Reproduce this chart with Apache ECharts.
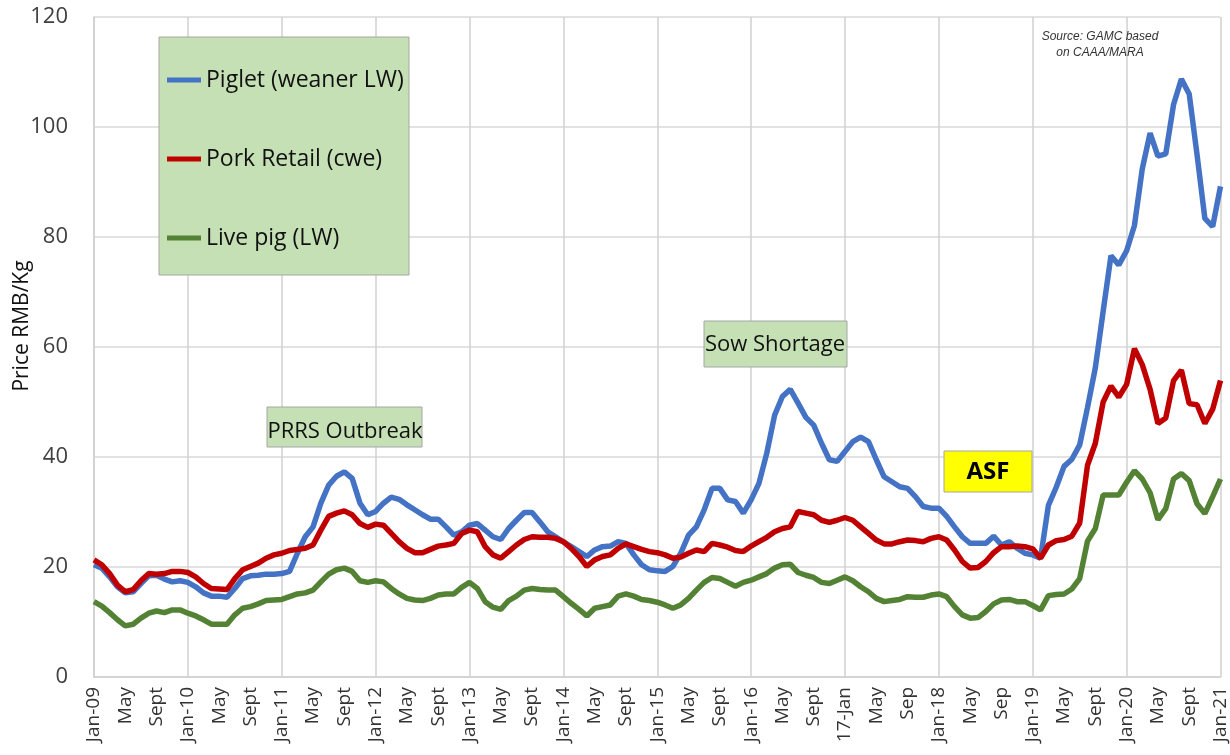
<!DOCTYPE html>
<html>
<head>
<meta charset="utf-8">
<script src="https://cdn.jsdelivr.net/npm/echarts@6/dist/echarts.min.js"></script>
<style>
  html, body { margin: 0; padding: 0; background: #ffffff; }
  #chart { width: 1230px; height: 755px; }
</style>
</head>
<body>
<div id="chart"></div>
<script>
// Tick labels, one every 4 months (Jan-09 .. Jan-21)
const tickLabels = ['Jan-09','May','Sept','Jan-10','May','Sept','Jan-11','May','Sept','Jan-12','May','Sept',
  'Jan-13','May','Sept','Jan-14','May','Sept','Jan-15','May','Sept','Jan-16','May','Sept',
  '17-Jan','May','Sep','Jan-18','May','Sep','Jan-19','May','Sept','Jan-20','May','Sept','Jan-21'];

// Monthly prices, RMB/kg, Jan-2009 .. Jan-2021
const piglet = [
  20.4, 19.8, 18.2, 16.4, 15.3, 15.5, 17.0, 18.4, 18.5, 17.8, 17.3, 17.5,
  17.2, 16.4, 15.3, 14.7, 14.7, 14.5, 16.1, 17.9, 18.4, 18.5, 18.7, 18.7,
  18.8, 19.2, 22.5, 25.5, 27.3, 31.6, 34.9, 36.5, 37.3, 36.1, 31.6, 29.5,
  30.1, 31.6, 32.7, 32.3, 31.3, 30.4, 29.5, 28.7, 28.7, 27.3, 25.8, 26.4,
  27.6, 27.9, 26.7, 25.5, 25.0, 27.0, 28.5, 29.9, 29.9, 28.2, 26.4, 25.5,
  24.6, 23.7, 22.8, 21.9, 23.1, 23.7, 23.8, 24.6, 24.3, 22.2, 20.4, 19.5,
  19.3, 19.2, 20.1, 22.5, 25.8, 27.3, 30.4, 34.3, 34.3, 32.2, 31.9, 29.8,
  32.2, 35.2, 40.7, 47.6, 51.0, 52.3, 49.8, 47.2, 45.8, 42.5, 39.5, 39.2,
  41.0, 42.8, 43.6, 42.8, 39.5, 36.4, 35.5, 34.6, 34.3, 32.8, 31.0, 30.7,
  30.7, 29.2, 27.3, 25.5, 24.3, 24.3, 24.3, 25.6, 24.0, 24.6, 23.4, 22.5,
  22.2, 21.6, 31.2, 34.5, 38.3, 39.6, 42.2, 49.0, 56.2, 66.5, 76.6, 74.9,
  77.5, 82.1, 92.4, 98.9, 94.7, 95.1, 104.1, 108.7, 106.0, 95.0, 83.4, 81.9,
  89.2
];
const porkRetail = [
  21.3, 20.4, 18.8, 16.7, 15.5, 15.9, 17.5, 18.8, 18.7, 18.8, 19.2, 19.2,
  19.0, 18.2, 17.0, 16.1, 16.0, 15.9, 17.9, 19.5, 20.1, 20.7, 21.6, 22.2,
  22.5, 23.0, 23.2, 23.4, 24.0, 26.7, 29.2, 29.8, 30.2, 29.5, 27.9, 27.2,
  27.8, 27.6, 26.1, 24.6, 23.4, 22.6, 22.6, 23.2, 23.8, 24.0, 24.3, 26.1,
  26.7, 26.4, 23.7, 22.2, 21.6, 22.8, 24.0, 25.0, 25.5, 25.4, 25.4, 25.2,
  24.6, 23.4, 21.9, 20.1, 21.3, 21.9, 22.2, 23.4, 24.2, 23.7, 23.2, 22.8,
  22.6, 22.2, 21.6, 21.8, 22.5, 23.1, 22.8, 24.3, 24.0, 23.6, 23.0, 22.8,
  23.8, 24.6, 25.4, 26.4, 27.0, 27.3, 30.1, 29.8, 29.5, 28.5, 28.1, 28.5,
  29.0, 28.5, 27.3, 26.1, 24.9, 24.2, 24.2, 24.6, 24.9, 24.8, 24.6, 25.2,
  25.5, 24.9, 23.1, 21.0, 19.8, 19.9, 21.0, 22.6, 23.7, 23.7, 23.8, 23.7,
  23.3, 21.6, 24.0, 24.8, 25.0, 25.6, 28.0, 38.5, 42.5, 50.0, 52.9, 50.9,
  53.2, 59.7, 56.8, 52.3, 46.1, 47.1, 53.9, 55.8, 49.7, 49.5, 46.1, 48.7,
  53.9
];
const livePig = [
  13.7, 12.9, 11.7, 10.4, 9.3, 9.6, 10.7, 11.6, 12.0, 11.7, 12.2, 12.2,
  11.6, 11.1, 10.4, 9.6, 9.6, 9.6, 11.3, 12.5, 12.8, 13.3, 13.9, 14.0,
  14.1, 14.6, 15.1, 15.3, 15.8, 17.3, 18.7, 19.5, 19.8, 19.2, 17.5, 17.2,
  17.5, 17.3, 16.1, 15.1, 14.3, 14.0, 13.9, 14.3, 14.9, 15.1, 15.1, 16.3,
  17.2, 16.1, 13.7, 12.7, 12.3, 13.9, 14.7, 15.8, 16.1, 15.9, 15.8, 15.8,
  14.6, 13.4, 12.3, 11.1, 12.5, 12.8, 13.1, 14.7, 15.1, 14.7, 14.1, 13.9,
  13.6, 13.1, 12.5, 13.1, 14.3, 15.8, 17.2, 18.1, 17.9, 17.2, 16.5, 17.2,
  17.6, 18.2, 18.8, 19.8, 20.4, 20.5, 19.0, 18.5, 18.1, 17.2, 17.0, 17.6,
  18.2, 17.5, 16.4, 15.5, 14.3, 13.7, 13.9, 14.1, 14.6, 14.5, 14.5, 14.9,
  15.1, 14.6, 12.8, 11.3, 10.7, 10.8, 11.9, 13.3, 14.0, 14.1, 13.7, 13.7,
  13.0, 12.2, 14.8, 15.0, 15.1, 16.0, 17.9, 24.7, 27.0, 33.1, 33.1, 33.1,
  35.4, 37.5, 36.0, 33.5, 28.6, 30.6, 36.0, 37.0, 35.7, 31.5, 29.7, 32.8,
  36.0
];
const seriesNames = ['Piglet (weaner LW)', 'Pork Retail (cwe)', 'Live pig (LW)'];
const annotations = ['PRRS Outbreak', 'Sow Shortage', 'ASF'];
const sourceLines = ['Source: GAMC based', 'on CAAA/MARA'];
const yAxisTitle = 'Price RMB/Kg';

// month categories: label shown every 4 months
const categories = piglet.map((_, i) => (i % 4 === 0 ? tickLabels[i / 4] : ''));

const FONT = '"Open Sans", sans-serif';
const chart = echarts.init(document.getElementById('chart'), null, { renderer: 'canvas' });

chart.setOption({
  animation: false,
  backgroundColor: '#ffffff',
  grid: { left: 94, right: 8, top: 17, bottom: 78, containLabel: false },
  xAxis: {
    type: 'category',
    data: categories,
    boundaryGap: false,
    axisLine: { show: true, lineStyle: { color: '#d0d0d0', width: 1.5 } },
    axisTick: { show: false },
    axisLabel: {
      interval: 3, rotate: 90, margin: 10,
      fontFamily: FONT, fontSize: 19, color: '#333333'
    },
    splitLine: {
      show: true,
      interval: function (index) { return index % 12 === 0; },
      lineStyle: { color: '#d0d0d0', width: 1.5 }
    }
  },
  yAxis: {
    type: 'value', min: 0, max: 120, interval: 20,
    axisLine: { show: true, lineStyle: { color: '#d0d0d0', width: 1.5 } },
    axisTick: { show: false },
    axisLabel: { margin: 26, fontFamily: FONT, fontSize: 22, color: '#404040' },
    splitLine: { show: true, lineStyle: { color: '#d9d9d9', width: 1.5 } }
  },
  legend: {
    orient: 'vertical', left: 162, top: 63,
    itemWidth: 34, itemHeight: 5, itemGap: 55,
    icon: 'rect',
    textStyle: { fontFamily: FONT, fontSize: 23, color: '#111111', lineHeight: 24 },
    data: seriesNames
  },
  series: [
    { name: seriesNames[0], type: 'line', data: piglet, showSymbol: false, symbol: 'none',
      lineStyle: { color: '#4472c4', width: 5.5 }, itemStyle: { color: '#4472c4' } },
    { name: seriesNames[1], type: 'line', data: porkRetail, showSymbol: false, symbol: 'none',
      lineStyle: { color: '#c00000', width: 5.5 }, itemStyle: { color: '#c00000' } },
    { name: seriesNames[2], type: 'line', data: livePig, showSymbol: false, symbol: 'none',
      lineStyle: { color: '#548235', width: 5.5 }, itemStyle: { color: '#548235' } }
  ],
  graphic: [
    // legend box
    { type: 'rect', z: 3, shape: { x: 159, y: 37, width: 250, height: 238 },
      style: { fill: '#c5e0b4', stroke: '#a6a6a6', lineWidth: 1 } },
    // PRRS Outbreak
    { type: 'rect', z: 5, shape: { x: 267, y: 407, width: 155, height: 40 },
      style: { fill: '#c5e0b4', stroke: '#a6a6a6', lineWidth: 1 } },
    { type: 'text', z: 6, x: 345, y: 432,
      style: { text: annotations[0], fontFamily: FONT, fontSize: 22, fill: '#111111',
        textAlign: 'center', textVerticalAlign: 'middle' } },
    // Sow Shortage
    { type: 'rect', z: 5, shape: { x: 704, y: 321, width: 143, height: 46 },
      style: { fill: '#c5e0b4', stroke: '#a6a6a6', lineWidth: 1 } },
    { type: 'text', z: 6, x: 775, y: 345,
      style: { text: annotations[1], fontFamily: FONT, fontSize: 22, fill: '#111111',
        textAlign: 'center', textVerticalAlign: 'middle' } },
    // ASF
    { type: 'rect', z: 5, shape: { x: 944, y: 451, width: 88, height: 41 },
      style: { fill: '#ffff00', stroke: '#a6a6a6', lineWidth: 1 } },
    { type: 'text', z: 6, x: 988, y: 472,
      style: { text: annotations[2], fontFamily: FONT, fontSize: 24, fontWeight: 'bold', fill: '#000000',
        textAlign: 'center', textVerticalAlign: 'middle' } },
    // source note
    { type: 'text', z: 6, x: 1100, y: 37,
      style: { text: sourceLines[0], fontFamily: '"Liberation Sans", Arial, sans-serif', fontStyle: 'italic',
        fontSize: 12, fill: '#333333', textAlign: 'center', textVerticalAlign: 'middle' } },
    { type: 'text', z: 6, x: 1100, y: 53,
      style: { text: sourceLines[1], fontFamily: '"Liberation Sans", Arial, sans-serif', fontStyle: 'italic',
        fontSize: 12, fill: '#333333', textAlign: 'center', textVerticalAlign: 'middle' } },
    // y-axis title
    { type: 'text', z: 6, x: 22, y: 326, rotation: Math.PI / 2,
      style: { text: yAxisTitle, fontFamily: FONT, fontSize: 21, fill: '#111111',
        textAlign: 'center', textVerticalAlign: 'middle' } }
  ]
});
</script>
</body>
</html>
